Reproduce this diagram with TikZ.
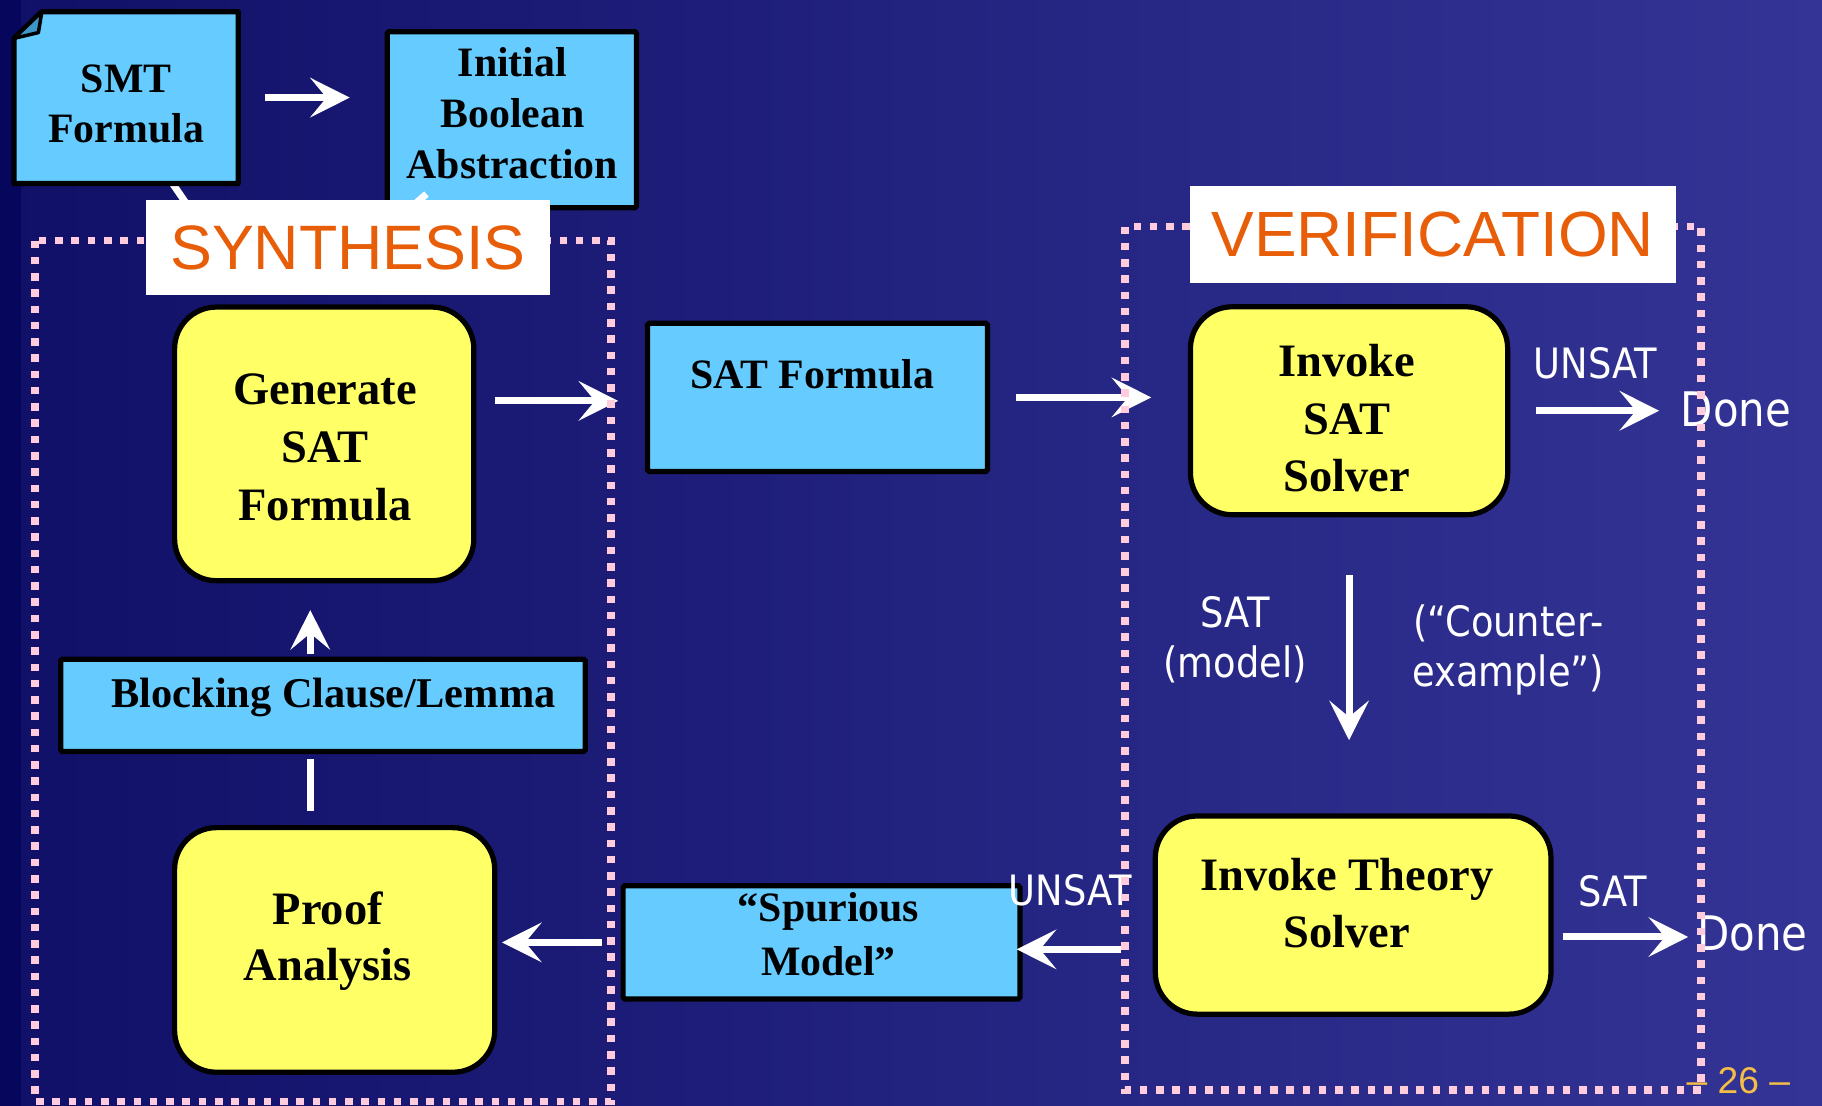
\documentclass[tikz,border=0pt]{standalone}
\usepackage{fontspec}
\setmainfont{Liberation Serif}
\newfontfamily\tahoma[FakeStretch=0.88]{DejaVu Sans}
\newfontfamily\arialf{Liberation Sans}
\usetikzlibrary{arrows.meta}
\definecolor{bgL}{RGB}{16,16,104}
\definecolor{bgR}{RGB}{52,52,150}
\definecolor{bgEdge}{RGB}{6,6,92}
\definecolor{skyblue}{RGB}{102,204,255}
\definecolor{foldblue}{RGB}{60,150,200}
\definecolor{lemon}{RGB}{255,255,102}
\definecolor{pinkdot}{RGB}{255,204,221}
\definecolor{orangeT}{RGB}{232,94,8}
\definecolor{pagenum}{RGB}{245,190,70}
\tikzset{
  bluebox/.style={rectangle, fill=skyblue, draw=black, line width=4.5pt, rounded corners=1.5pt, inner sep=0pt},
  yellowbox/.style={rectangle, fill=lemon, draw=black, line width=4.5pt, rounded corners=36pt, inner sep=0pt},
  bt/.style n args={2}{inner sep=0pt, align=center, text=black, font=\bfseries\fontsize{#1}{#2}\selectfont},
  st/.style n args={2}{inner sep=0pt, align=center, text=white, font=\tahoma\fontsize{#1}{#2}\selectfont},
  arr/.style={draw=white, line width=6pt, -{Stealth[length=34pt,width=34pt,inset=14pt]}},
  wline/.style={draw=white, line width=6pt},
  dotframe/.style={draw=pinkdot, line width=6.5pt, dash pattern=on 6.5pt off 7.5pt},
  lbl/.style={rectangle, fill=white, inner sep=0pt, text=orangeT, font=\arialf\fontsize{54}{60}\selectfont},
}
\begin{document}
\begin{tikzpicture}[x=1pt,y=-1pt]
\useasboundingbox (0,0) rectangle (1568,951.8);
% background
\shade[left color=bgL, right color=bgR] (0,0) rectangle (1568,951.8);
\fill[bgEdge] (0,0) rectangle (18,951.8);

% box nodes
\node[rectangle, inner sep=0pt, minimum width=192.5pt, minimum height=147.5pt] (smt) at (108.5,84) {};
\node[bluebox, minimum width=214.5pt, minimum height=151.5pt] (init) at (440.5,103) {};
% stubs hidden behind the SYNTHESIS label
\coordinate (hidA) at (176,198);
\coordinate (hidB) at (338,192);
\draw[wline] ([xshift=40pt]smt.south) -- (hidA);
\draw[fill=skyblue, draw=black, line width=4.5pt, line join=round]
  ([yshift=-23pt]smt.north west) -- ([xshift=24pt]smt.north west) -- (smt.north east)
  -- (smt.south east) -- (smt.south west) -- cycle;
\draw[fill=foldblue, draw=black, line width=3pt, line join=round]
  ([yshift=-23pt]smt.north west) -- ([xshift=24pt]smt.north west)
  -- ([xshift=21pt,yshift=-18pt]smt.north west) -- cycle;
\draw[wline] (hidB) -- ([xshift=-73.5pt,yshift=14pt]init.south);

\node[yellowbox, minimum width=257.5pt, minimum height=235.5pt] (gen) at (279,382) {};
\node[bluebox, minimum width=292.5pt, minimum height=127.5pt] (satf) at (703.5,342) {};
\node[bluebox, minimum width=451.5pt, minimum height=79.5pt] (block) at (278,607) {};
\node[yellowbox, minimum width=275.5pt, minimum height=210.5pt] (proof) at (288,817.5) {};
\node[bluebox, minimum width=341.5pt, minimum height=97.5pt] (spur) at (707,811) {};
\node[yellowbox, minimum width=273pt, minimum height=179pt] (isat) at (1161,353.5) {};
\node[yellowbox, minimum width=340.5pt, minimum height=170.5pt] (itheory) at (1164.5,787.5) {};

% box texts
\node[bt={36}{43}] (smtt) at (108.5,89.3) {SMT\\Formula};
\node[bt={36}{43.7}] (initt) at (441,97.5) {Initial\\Boolean\\Abstraction};
\node[bt={40}{50}] (gent) at (279.7,384.7) {Generate\\SAT\\Formula};
\node[bt={36}{43}, anchor=base] (satft) at (699,334) {SAT Formula};
\node[bt={36.5}{43}, anchor=base] (blockt) at (287,609) {Blocking Clause/Lemma};
\node[bt={40}{48}] (prooft) at (282,809.7) {Proof\\Analysis};
\node[bt={36}{46}] (spurt) at (713,803.9) {“Spurious\\Model”};
\node[bt={40}{49.5}] (isatt) at (1159,360) {Invoke\\SAT\\Solver};
\node[bt={40}{49}] (itht) at (1159,777) {Invoke Theory\\Solver};

% white labels
\node[st={36}{43}, anchor=base] (unsat1) at (1373,326) {UNSAT};
\node[st={41}{49}, anchor=base] (done1) at (1494,367) {Done};
\node[st={36}{43}] (satmodel) at (1063,550.5) {SAT\\(model)};
\node[st={36}{43}] (cex) at (1298,559.5) {(“Counter-\\example”)};
\node[st={36}{43}, anchor=base] (sat2) at (1388,780) {SAT};
\node[st={41}{49}, anchor=base] (done2) at (1508,818) {Done};
\node[st={36}{43}, anchor=base] (unsat2) at (921,779) {UNSAT};
\node[inner sep=0pt, anchor=base, text=pagenum, font=\arialf\fontsize{32}{38}\selectfont] (pg) at (1496,941) {– 26 –};

% connectors
\draw[arr, shorten <=23pt, shorten >=30pt] (smt.east) -- (smt.east -| init.west);
\draw[arr, shorten <=16pt, shorten >=23pt] ([yshift=-3pt]gen.east |- satf.west) -- ([yshift=-3pt]satf.west);
\draw[arr, shorten <=22pt, shorten >=31.5pt] (satf.east) -- (satf.east -| isat.west);
\draw[arr, shorten <=22.5pt, shorten >=18.5pt] (isat.east) -- (isat.east -| done1.west);
\draw[arr, shorten <=50pt, shorten >=63pt] (isat.south) -- (isat.south |- itheory.north);
\draw[arr, shorten <=8pt, shorten >=7.5pt] ([yshift=-3pt]itheory.east |- done2.west) -- ([yshift=-3pt]done2.west);
\draw[arr, shorten <=27pt] ([yshift=-6pt]spur.east -| itheory.west) -- ([xshift=-5pt,yshift=-6pt]spur.east);
\draw[arr, shorten <=16pt, shorten >=4pt] (spur.west) -- (spur.west -| proof.east);
\draw[wline, shorten <=12pt, shorten >=4pt] ([xshift=-21pt]proof.north) -- ([xshift=-21pt]proof.north |- block.south);
\draw[arr, shorten <=2pt, shorten >=23pt] ([xshift=-12pt]gen.south |- block.north) -- ([xshift=-12pt]gen.south);

% dotted frames
\draw[dotframe] (30,207) rectangle (526,948);
\draw[dotframe] (968,195) rectangle (1464,938);

% section labels
\node[lbl, minimum width=347pt, minimum height=82pt] (synlbl) at (299.5,213) {SYNTHESIS};
\node[lbl, minimum width=418pt, minimum height=83.5pt, font=\arialf\fontsize{55}{60}\selectfont] (verlbl) at (1233,201.75) {VERIFICATION};
\end{tikzpicture}
\end{document}
